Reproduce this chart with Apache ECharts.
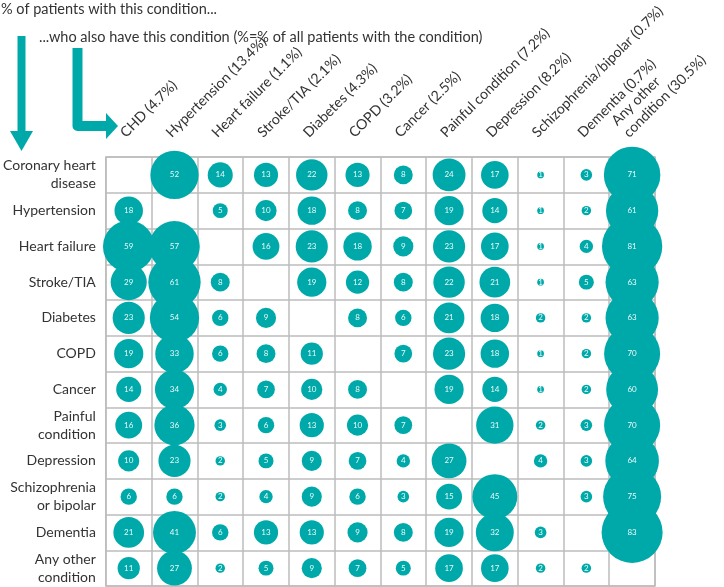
<!DOCTYPE html>
<html>
<head>
<meta charset="utf-8">
<script src="https://cdn.jsdelivr.net/npm/echarts@6/dist/echarts.min.js"></script>
<style>html,body{margin:0;padding:0;background:#fff}#c{width:724px;height:587px}</style>
</head>
<body>
<div id="c"></div>
<script>
const rowLabels = ['Coronary heart\ndisease','Hypertension','Heart failure','Stroke/TIA','Diabetes','COPD','Cancer','Painful\ncondition','Depression','Schizophrenia\nor bipolar','Dementia','Any other\ncondition'];
const colLabels = ['CHD (4.7%)','Hypertension (13.4%)','Heart failure (1.1%)','Stroke/TIA (2.1%)','Diabetes (4.3%)','COPD (3.2%)','Cancer (2.5%)','Painful condition (7.2%)','Depression (8.2%)','Schizophrenia/bipolar (0.7%)','Dementia (0.7%)','Any other\ncondition (30.5%)'];

const chdRow        = [null,52,14,13,22,13,8,24,17,1,3,71];
const hypertension  = [18,null,5,10,18,8,7,19,14,1,2,61];
const heartFailure  = [59,57,null,16,23,18,9,23,17,1,4,81];
const strokeTia     = [29,61,8,null,19,12,8,22,21,1,5,63];
const diabetes      = [23,54,6,9,null,8,6,21,18,2,2,63];
const copd          = [19,33,6,8,11,null,7,23,18,1,2,70];
const cancer        = [14,34,4,7,10,8,null,19,14,1,2,60];
const painful       = [16,36,3,6,13,10,7,null,31,2,3,70];
const depression    = [10,23,2,5,9,7,4,27,null,4,3,64];
const schizophrenia = [6,6,2,4,9,6,3,15,45,null,3,75];
const dementia      = [21,41,6,13,13,9,8,19,32,3,null,83];
const anyOther      = [11,27,2,5,9,7,5,17,17,2,2,null];

const matrix = [chdRow,hypertension,heartFailure,strokeTia,diabetes,copd,cancer,painful,depression,schizophrenia,dementia,anyOther];

const teal = '#00A9A9';
const points = [];
matrix.forEach((row, r) => row.forEach((v, c) => { if (v !== null) points.push([c, r, v]); }));

const chart = echarts.init(document.getElementById('c'), null, {renderer: 'canvas'});
const FONT = 'Lato';
chart.setOption({
  animation: false,
  textStyle: {fontFamily: FONT},
  title: [
    {text: '% of patients with this condition...', left: -4, top: -3, textStyle: {fontSize: 14.5, fontWeight: 'normal', color: '#333', fontFamily: FONT}},
    {text: '...who also have this condition (%=% of all patients with the condition)', left: 34, top: 25, textStyle: {fontSize: 14.5, fontWeight: 'normal', color: '#333', fontFamily: FONT}}
  ],
  grid: {left: 101, right: 69, top: 157, bottom: 1, show: true, borderColor: '#bdbdbd', borderWidth: 1.5},
  xAxis: {
    type: 'category', position: 'top', data: colLabels,
    axisTick: {show: false}, axisLine: {show: false},
    splitLine: {show: true, interval: 0, lineStyle: {color: '#bdbdbd', width: 1.5}},
    axisLabel: {interval: 0, rotate: -45, margin: 16, verticalAlign: 'bottom', fontSize: 14.2, color: '#333', lineHeight: 17, fontFamily: FONT}
  },
  yAxis: {
    type: 'category', data: rowLabels, inverse: true,
    axisTick: {show: false}, axisLine: {show: false},
    splitLine: {show: true, interval: 0, lineStyle: {color: '#bdbdbd', width: 1.5}},
    axisLabel: {interval: 0, margin: 10, fontSize: 14, color: '#333', lineHeight: 18, fontFamily: FONT}
  },
  series: [{
    type: 'scatter',
    data: points,
    symbol: 'circle',
    symbolSize: d => 6.7 * Math.sqrt(d[2]),
    itemStyle: {color: teal, opacity: 1},
    label: {show: true, position: 'inside', formatter: p => p.value[2], fontSize: 8, color: 'rgba(255,255,255,0.92)', fontFamily: FONT}
  }],
  graphic: [
    {type: 'rect', shape: {x: 17.5, y: 36, width: 8, height: 96}, style: {fill: teal}},
    {type: 'polygon', shape: {points: [[10, 131], [33, 131], [21.5, 151]]}, style: {fill: teal}},
    {type: 'polyline', shape: {points: [[77.5, 48], [77.5, 126], [107, 126]]}, style: {stroke: teal, lineWidth: 10, lineJoin: 'round', fill: null}},
    {type: 'polygon', shape: {points: [[106, 113], [106, 139], [118, 126]]}, style: {fill: teal}}
  ]
});
</script>
</body>
</html>
